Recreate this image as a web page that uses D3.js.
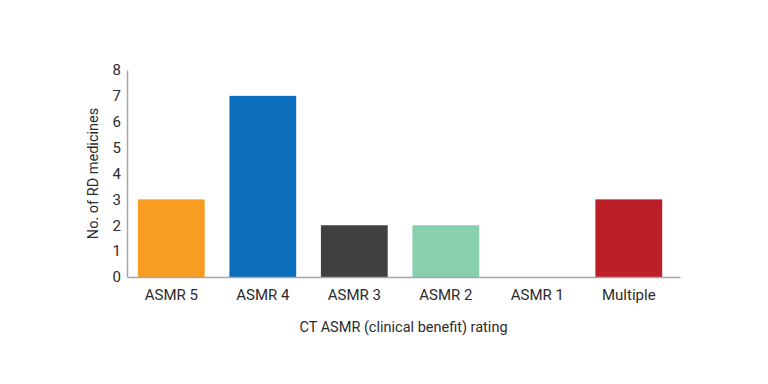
<html>
<head>
    <script src="https://d3js.org/d3.v7.min.js" charset="utf-8"></script>
    <style>
        body { margin: 0; background: #fff; }
        text { font-family: Roboto, sans-serif; fill: #2b2b2b; }
    </style>
</head>
<body>
<script type="text/javascript">
    var categories = ["ASMR 5", "ASMR 4", "ASMR 3", "ASMR 2", "ASMR 1", "Multiple"];
    var counts = [3, 7, 2, 2, 0, 3];
    var colors = ["#F89C22", "#0A6EBD", "#404040", "#88CFAE", "#FFFFFF", "#BC1F27"];
    var yTicks = [0, 1, 2, 3, 4, 5, 6, 7, 8];

    var width = 768;
    var height = 384;
    var margin = { left: 127, right: 88, top: 70, bottom: 107 };

    const svg = d3.select("body").append("svg")
        .attr("width", width)
        .attr("height", height);

    // bars sit a bit left of centre in the original, hence align < 0.5
    var xScale = d3.scaleBand(categories, [margin.left, width - margin.right])
        .paddingInner(0.27)
        .paddingOuter(0.157)
        .align(0.38);

    var yScale = d3.scaleLinear([0, 8], [height - margin.bottom, margin.top]);

    // bars
    svg.append("g")
        .selectAll("rect")
        .data(categories)
        .join("rect")
            .attr("x", d => xScale(d))
            .attr("y", (d, i) => yScale(counts[i]))
            .attr("width", xScale.bandwidth())
            .attr("height", (d, i) => yScale(0) - yScale(counts[i]))
            .attr("fill", (d, i) => colors[i]);

    var xAxis = d3.axisBottom(xScale).tickSize(0).tickPadding(12);
    var yAxis = d3.axisLeft(yScale).tickValues(yTicks).tickSize(0).tickPadding(6);

    var gx = svg.append("g")
        .attr("transform", `translate(0, ${height - margin.bottom})`)
        .call(xAxis);
    var gy = svg.append("g")
        .attr("transform", `translate(${margin.left}, 0)`)
        .call(yAxis);

    [gx, gy].forEach(g => {
        g.select(".domain").attr("stroke", "#a6a6a6").attr("stroke-width", 1.5);
        g.selectAll("text")
            .style("font-family", "Roboto, sans-serif")
            .style("font-size", "15px")
            .attr("fill", "#2b2b2b");
    });

    svg.append("text")
        .attr("x", (margin.left + width - margin.right) / 2)
        .attr("y", 332)
        .attr("text-anchor", "middle")
        .style("font-size", "14.5px")
        .text("CT ASMR (clinical benefit) rating");

    svg.append("text")
        .attr("transform", `translate(98, ${(margin.top + height - margin.bottom) / 2}) rotate(-90)`)
        .attr("text-anchor", "middle")
        .style("font-size", "14.5px")
        .text("No. of RD medicines");
</script>
</body>
</html>
